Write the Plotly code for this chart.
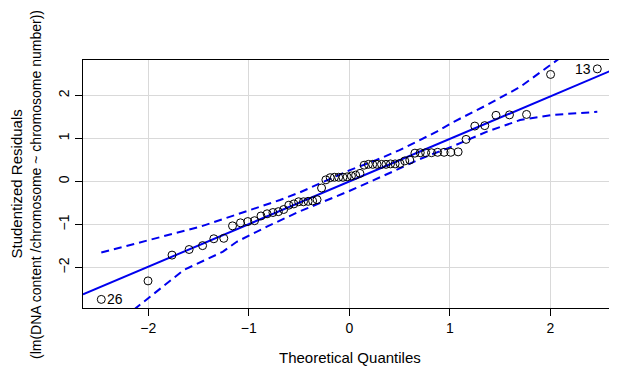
import plotly.graph_objects as go

# Theoretical t-quantiles (x) and sorted studentized residuals (y)
theoretical = [-2.468, -2.003, -1.764, -1.594, -1.460, -1.348, -1.249, -1.162, -1.083, -1.010,
               -0.943, -0.879, -0.818, -0.760, -0.706, -0.653, -0.602, -0.552, -0.504, -0.456,
               -0.410, -0.365, -0.321, -0.276, -0.233, -0.190, -0.148, -0.106, -0.063, -0.021,
               0.021, 0.063, 0.106, 0.148, 0.190, 0.233, 0.276, 0.321, 0.365, 0.410,
               0.456, 0.504, 0.552, 0.602, 0.653, 0.706, 0.760, 0.818, 0.879, 0.943,
               1.010, 1.083, 1.162, 1.249, 1.348, 1.460, 1.594, 1.764, 2.003, 2.468]
residuals = [-2.74, -2.31, -1.71, -1.58, -1.49, -1.33, -1.32, -1.03, -0.96, -0.93,
             -0.91, -0.80, -0.75, -0.72, -0.70, -0.65, -0.55, -0.52, -0.47, -0.47,
             -0.46, -0.45, -0.42, -0.15, 0.04, 0.09, 0.10, 0.10, 0.10, 0.11,
             0.13, 0.15, 0.19, 0.38, 0.40, 0.40, 0.40, 0.40, 0.40, 0.41,
             0.41, 0.42, 0.48, 0.50, 0.66, 0.67, 0.67, 0.67, 0.68, 0.68,
             0.68, 0.69, 0.98, 1.29, 1.30, 1.54, 1.55, 1.56, 2.49, 2.62]

# labelled observations: (index into sorted arrays, label)
point_labels = [(0, "26"), (59, "13")]

# reference line y = intercept + slope * x
ref_intercept = 0.0
ref_slope = 0.99

# confidence envelope (dashed)
env_upper_x = [-2.468, -1.485, -0.69, -0.49, 0.0, 0.27, 0.50, 0.87, 1.04, 1.37, 1.70, 2.0, 2.468]
env_upper_y = [-1.65, -1.05, -0.43, -0.25, 0.26, 0.50, 0.73, 1.16, 1.39, 1.78, 2.20, 2.71, 3.50]
env_lower_x = [-2.468, -2.15, -1.65, -1.257, -1.12, -0.82, -0.50, 0.0, 0.45, 0.70, 1.04, 1.37, 1.70, 2.03, 2.468]
env_lower_y = [-3.47, -2.99, -2.06, -1.63, -1.40, -1.05, -0.70, -0.22, 0.25, 0.52, 0.83, 1.16, 1.43, 1.55, 1.62]

x_ticks = [-2, -1, 0, 1, 2]
y_ticks = [-2, -1, 0, 1, 2]
x_range = [-2.650, 2.654]
y_range = [-2.94, 2.826]

x_title = "Theoretical Quantiles"
y_title_1 = "Studentized Residuals"
y_title_2 = "(lm(DNA content /chromosome ~ chromosome number))"

FONT = "Liberation Sans, Arial, Helvetica, sans-serif"
BLUE = "#0000EE"

fig = go.Figure()

fig.add_trace(go.Scatter(
    x=x_range, y=[ref_intercept + ref_slope * v for v in x_range],
    mode="lines", line=dict(color=BLUE, width=2), hoverinfo="skip", showlegend=False))
fig.add_trace(go.Scatter(
    x=env_upper_x, y=env_upper_y, mode="lines",
    line=dict(color=BLUE, width=2, dash="8px,5px"), showlegend=False))
fig.add_trace(go.Scatter(
    x=env_lower_x, y=env_lower_y, mode="lines",
    line=dict(color=BLUE, width=2, dash="8px,5px"), showlegend=False))
fig.add_trace(go.Scatter(
    x=theoretical, y=residuals, mode="markers",
    marker=dict(symbol="circle-open", size=8, color="black", line=dict(width=1, color="black")),
    showlegend=False, cliponaxis=False))

for idx, lab in point_labels:
    left = theoretical[idx] < 0
    fig.add_annotation(x=theoretical[idx], y=residuals[idx], text=lab, showarrow=False,
                       xanchor="left" if left else "right", xshift=4 if left else -4,
                       font=dict(family=FONT, size=14, color="black"))

fig.add_annotation(xref="paper", yref="paper", x=0.5, y=-0.1976, text=x_title,
                   showarrow=False, xanchor="center", yanchor="middle",
                   font=dict(family=FONT, size=15, color="black"))
fig.add_annotation(xref="paper", yref="paper", x=-0.1266, y=0.5, text=y_title_1,
                   showarrow=False, textangle=-90, xanchor="center", yanchor="middle",
                   font=dict(family=FONT, size=15, color="black"))
fig.add_annotation(xref="paper", yref="paper", x=-0.0882, y=0.5, text=y_title_2,
                   showarrow=False, textangle=-90, xanchor="center", yanchor="middle",
                   font=dict(family=FONT, size=14, color="black"))

axis_common = dict(showgrid=True, gridcolor="#d9d9d9", gridwidth=1, zeroline=False,
                   showline=True, linecolor="black", linewidth=1, mirror=True,
                   ticks="outside", ticklen=7, tickcolor="black", tickwidth=1,
                   tickfont=dict(family=FONT, size=14, color="black"))

fig.update_xaxes(range=x_range, tickvals=x_ticks, ticktext=[("\u2212" + str(-v)) if v < 0 else str(v) for v in x_ticks], **axis_common)
fig.update_yaxes(range=y_range, tickvals=y_ticks, ticktext=[("\u2212" + str(-v)) if v < 0 else str(v) for v in y_ticks], tickangle=-90, **axis_common)

# page body has an 8px margin, so the figure is shrunk by 8px and margins shifted
fig.update_layout(
    width=609, height=365,
    margin=dict(l=75, r=1, t=52, b=65),
    paper_bgcolor="white", plot_bgcolor="white",
    font=dict(family=FONT, color="black"),
)

fig.write_html("out.html")
